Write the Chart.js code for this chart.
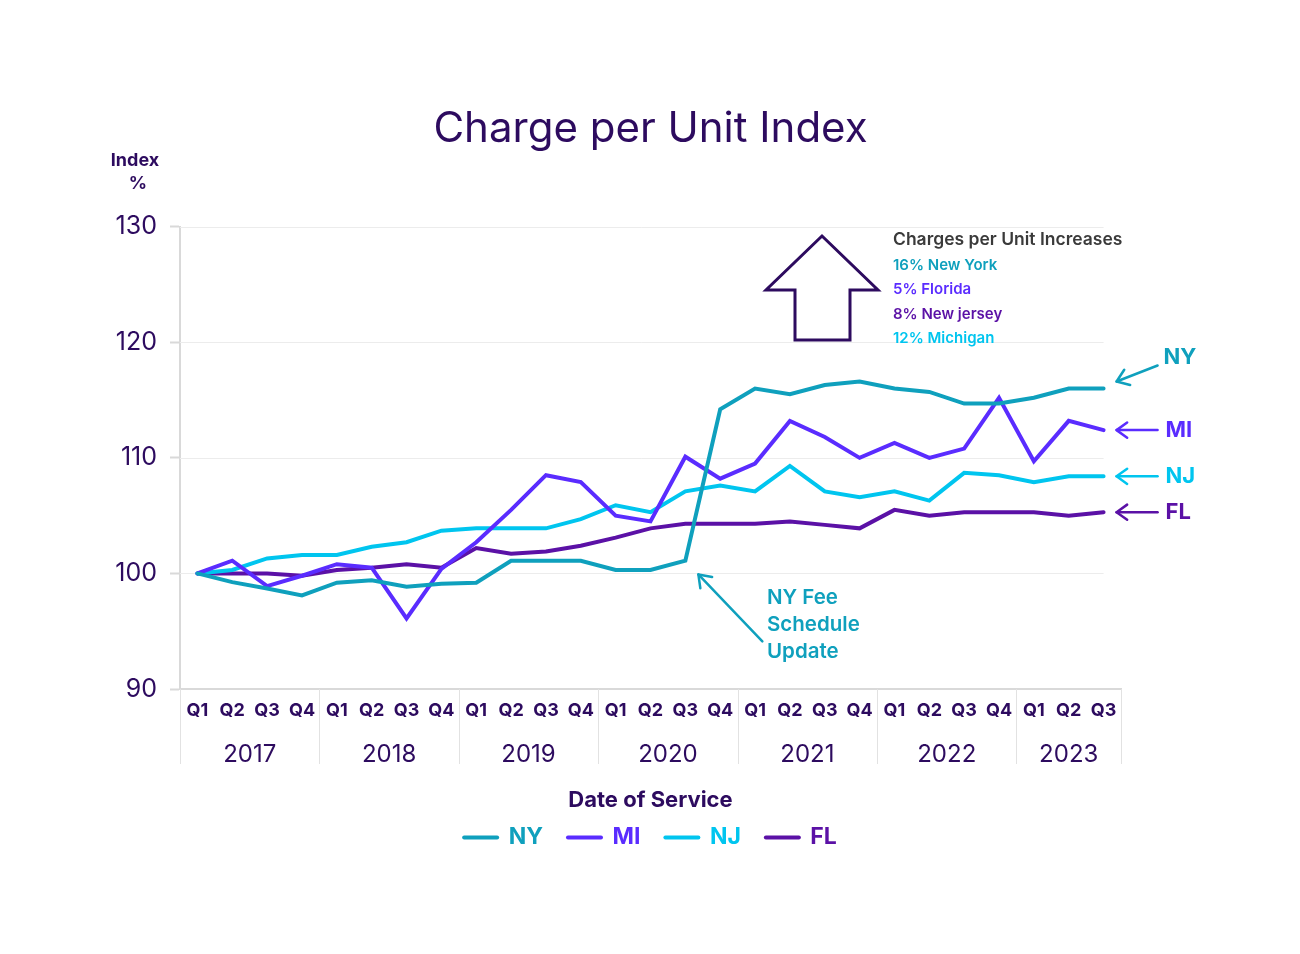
<!DOCTYPE html>
<html>
<head>
<meta charset="utf-8">
<script src="https://cdn.jsdelivr.net/npm/chart.js@4/dist/chart.umd.min.js"></script>
<style>
html,body{margin:0;padding:0;background:#fff;}
#wrap{width:1300px;height:954px;position:relative;}
</style>
</head>
<body>
<div id="wrap"><canvas id="c" width="1300" height="954"></canvas></div>
<script>
// ---- data ----
const quarters = ['Q1','Q2','Q3','Q4','Q1','Q2','Q3','Q4','Q1','Q2','Q3','Q4','Q1','Q2','Q3','Q4',
                  'Q1','Q2','Q3','Q4','Q1','Q2','Q3','Q4','Q1','Q2','Q3'];
const years = ['2017','2018','2019','2020','2021','2022','2023'];
const yearSizes = [4,4,4,4,4,4,3];
const ny = [100, 99.25, 98.7, 98.1, 99.2, 99.4, 98.85, 99.1, 99.2, 101.1, 101.1, 101.1, 100.3, 100.3, 101.1,
            114.2, 116.0, 115.5, 116.3, 116.6, 116.0, 115.7, 114.7, 114.7, 115.2, 116.0, 116.0];
const mi = [100, 101.1, 98.9, 99.8, 100.8, 100.5, 96.1, 100.4, 102.7, 105.5, 108.5, 107.9, 105.0, 104.5, 110.1,
            108.2, 109.5, 113.2, 111.8, 110.0, 111.3, 110.0, 110.8, 115.2, 109.7, 113.2, 112.4];
const nj = [100, 100.3, 101.3, 101.6, 101.6, 102.3, 102.7, 103.7, 103.9, 103.9, 103.9, 104.7, 105.9, 105.3, 107.1,
            107.6, 107.1, 109.3, 107.1, 106.6, 107.1, 106.3, 108.7, 108.5, 107.9, 108.4, 108.4];
const fl = [100, 100.0, 100.0, 99.8, 100.3, 100.5, 100.8, 100.5, 102.2, 101.7, 101.9, 102.4, 103.1, 103.9, 104.3,
            104.3, 104.3, 104.5, 104.2, 103.9, 105.5, 105.0, 105.3, 105.3, 105.3, 105.0, 105.3];
const yTicks = [90, 100, 110, 120, 130];
const seriesNames = ['NY','MI','NJ','FL'];
const increases = ['16% New York','5% Florida','8% New jersey','12% Michigan'];
const feeNote = ['NY Fee','Schedule','Update'];

// ---- styles ----
const FONT = "Inter, 'Noto Sans', 'DejaVu Sans', sans-serif";
const DARK = '#2d0b5f';
const C_NY = '#0fa0bd', C_MI = '#5a2cff', C_NJ = '#00c5ef', C_FL = '#5b11a6';
const AXIS_GRAY = '#d9d9d9';

function arrow(ctx, x1, y1, x2, y2, color, head, lw) {
  const a = Math.atan2(y2 - y1, x2 - x1);
  ctx.save();
  ctx.strokeStyle = color; ctx.lineWidth = lw; ctx.lineCap = 'round'; ctx.lineJoin = 'round';
  ctx.beginPath(); ctx.moveTo(x1, y1); ctx.lineTo(x2, y2); ctx.stroke();
  ctx.beginPath();
  ctx.moveTo(x2 - head * Math.cos(a - 0.62), y2 - head * Math.sin(a - 0.62));
  ctx.lineTo(x2, y2);
  ctx.lineTo(x2 - head * Math.cos(a + 0.62), y2 - head * Math.sin(a + 0.62));
  ctx.stroke();
  ctx.restore();
}

const annot = {
  id: 'annot',
  beforeDatasetsDraw(chart) {
    const {ctx, chartArea: ca, scales: {x: xs, y: ys}} = chart;
    const xEnd = xs.getPixelForValue(quarters.length - 1);
    ctx.save();
    ctx.strokeStyle = '#ececec'; ctx.lineWidth = 1;
    yTicks.forEach(v => {
      if (v === yTicks[0]) return;
      const y = Math.round(ys.getPixelForValue(v)) + 0.5;
      ctx.beginPath(); ctx.moveTo(ca.left, y); ctx.lineTo(xEnd, y); ctx.stroke();
    });
    ctx.restore();
  },
  afterDraw(chart) {
    const {ctx, chartArea: ca, scales: {x: xs, y: ys}} = chart;
    ctx.save();
    // year group separators and labels
    let idx = 0;
    const sepTop = xs.top, sepBot = xs.top + 75;
    ctx.strokeStyle = '#e2e2e2'; ctx.lineWidth = 1;
    ctx.fillStyle = DARK; ctx.font = `400 24px ${FONT}`;
    ctx.textAlign = 'center'; ctx.textBaseline = 'middle';
    years.forEach((yr, i) => {
      const first = idx, last = idx + yearSizes[i] - 1;
      const x0 = i === 0 ? ca.left : (xs.getPixelForValue(first - 1) + xs.getPixelForValue(first)) / 2;
      const x1 = i === years.length - 1 ? ca.right : (xs.getPixelForValue(last) + xs.getPixelForValue(last + 1)) / 2;
      [x0, x1].forEach(sx => {
        const px = Math.round(sx) + 0.5;
        ctx.beginPath(); ctx.moveTo(px, sepTop); ctx.lineTo(px, sepBot); ctx.stroke();
      });
      ctx.fillText(yr, (x0 + x1) / 2, xs.top + 66);
      idx += yearSizes[i];
    });

    // y axis unit label
    ctx.font = `700 18px ${FONT}`; ctx.fillStyle = DARK;
    ctx.fillText('Index', 135, 161);
    ctx.fillText('%', 138, 184);

    // big outlined up arrow
    ctx.strokeStyle = DARK; ctx.lineWidth = 3; ctx.lineJoin = 'miter';
    ctx.beginPath();
    ctx.moveTo(822, 236); ctx.lineTo(878, 290); ctx.lineTo(850, 290); ctx.lineTo(850, 340);
    ctx.lineTo(795, 340); ctx.lineTo(795, 290); ctx.lineTo(766, 290); ctx.closePath();
    ctx.stroke();

    // increases text block
    ctx.textAlign = 'left';
    ctx.font = `600 17.5px ${FONT}`; ctx.fillStyle = '#3a3a3a';
    ctx.fillText('Charges per Unit Increases', 893, 240);
    const incColors = [C_NY, C_MI, C_FL, C_NJ];
    ctx.font = `600 15px ${FONT}`;
    increases.forEach((t, i) => { ctx.fillStyle = incColors[i]; ctx.fillText(t, 893, 265 + i * 24.6); });

    // right-side series labels with arrows
    const lastIdx = quarters.length - 1;
    const lastX = xs.getPixelForValue(lastIdx);
    const series = [[ny, C_NY], [mi, C_MI], [nj, C_NJ], [fl, C_FL]];
    ctx.font = `700 22px ${FONT}`;
    series.forEach(([arr, col], i) => {
      const yv = ys.getPixelForValue(arr[lastIdx]);
      ctx.fillStyle = col;
      if (i === 0) {
        arrow(ctx, lastX + 54, yv - 23, lastX + 13, yv - 7, col, 14, 2.5);
        ctx.fillText(seriesNames[i], lastX + 60, yv - 31);
      } else {
        arrow(ctx, lastX + 54, yv, lastX + 13, yv, col, 13, 2.5);
        ctx.fillText(seriesNames[i], lastX + 62, yv);
      }
    });

    // NY fee schedule note
    const tipX = xs.getPixelForValue(14) + 13, tipY = ys.getPixelForValue(100) + 1;
    arrow(ctx, tipX + 64, tipY + 67, tipX, tipY, C_NY, 14, 2.5);
    ctx.fillStyle = C_NY; ctx.font = `600 20.5px ${FONT}`;
    feeNote.forEach((t, i) => ctx.fillText(t, 767, 598 + i * 27));
    ctx.restore();
  }
};

const ds = (label, data, color) => ({
  label, data, borderColor: color, backgroundColor: color,
  borderWidth: 4, pointRadius: 0, pointHoverRadius: 0, tension: 0, fill: false,
  borderCapStyle: 'round'
});

new Chart(document.getElementById('c'), {
  type: 'line',
  data: {
    labels: quarters,
    datasets: [ds('NY', ny, C_NY), ds('MI', mi, C_MI), ds('NJ', nj, C_NJ), ds('FL', fl, C_FL)]
  },
  plugins: [annot],
  options: {
    responsive: false,
    animation: false,
    events: [],
    layout: { padding: { top: 0, left: 0, right: 179, bottom: 95 } },
    plugins: {
      title: {
        display: true, text: 'Charge per Unit Index', fullSize: false,
        color: DARK, font: { family: FONT, size: 42, weight: '400', lineHeight: 1.2 },
        padding: { top: 104, bottom: 72.3 }
      },
      legend: {
        display: true, position: 'bottom', fullSize: false,
        labels: {
          usePointStyle: true, pointStyle: 'line', pointStyleWidth: 33, boxWidth: 33,
          padding: 25, font: { family: FONT, size: 23, weight: '700' },
          generateLabels(chart) {
            const items = Chart.defaults.plugins.legend.labels.generateLabels(chart);
            items.forEach(it => {
              const d = chart.data.datasets[it.datasetIndex];
              it.fontColor = d.borderColor; it.strokeStyle = d.borderColor;
              it.lineWidth = 4; it.lineCap = 'round';
            });
            return items;
          }
        }
      },
      tooltip: { enabled: false }
    },
    scales: {
      x: {
        type: 'category', offset: true,
        grid: { display: false, drawTicks: false },
        border: { display: true, color: AXIS_GRAY, width: 2 },
        ticks: { color: DARK, font: { family: FONT, size: 18, weight: '700' }, padding: 11, maxRotation: 0, autoSkip: false },
        title: { display: true, text: 'Date of Service', color: DARK,
                 font: { family: FONT, size: 22, weight: '700', lineHeight: 1.2 }, padding: { top: 0, bottom: -13 } },
        afterFit(scale) { scale.height = 112; }
      },
      y: {
        min: 90, max: 130,
        afterBuildTicks(scale) { scale.ticks = yTicks.map(v => ({ value: v })); },
        grid: { drawOnChartArea: false, drawTicks: true, tickLength: 10, tickColor: AXIS_GRAY, tickWidth: 2 },
        border: { display: true, color: AXIS_GRAY, width: 2 },
        ticks: { color: DARK, font: { family: FONT, size: 25, weight: '400' }, padding: 13 },
        afterFit(scale) { scale.width = 180; }
      }
    }
  }
});
</script>
</body>
</html>
